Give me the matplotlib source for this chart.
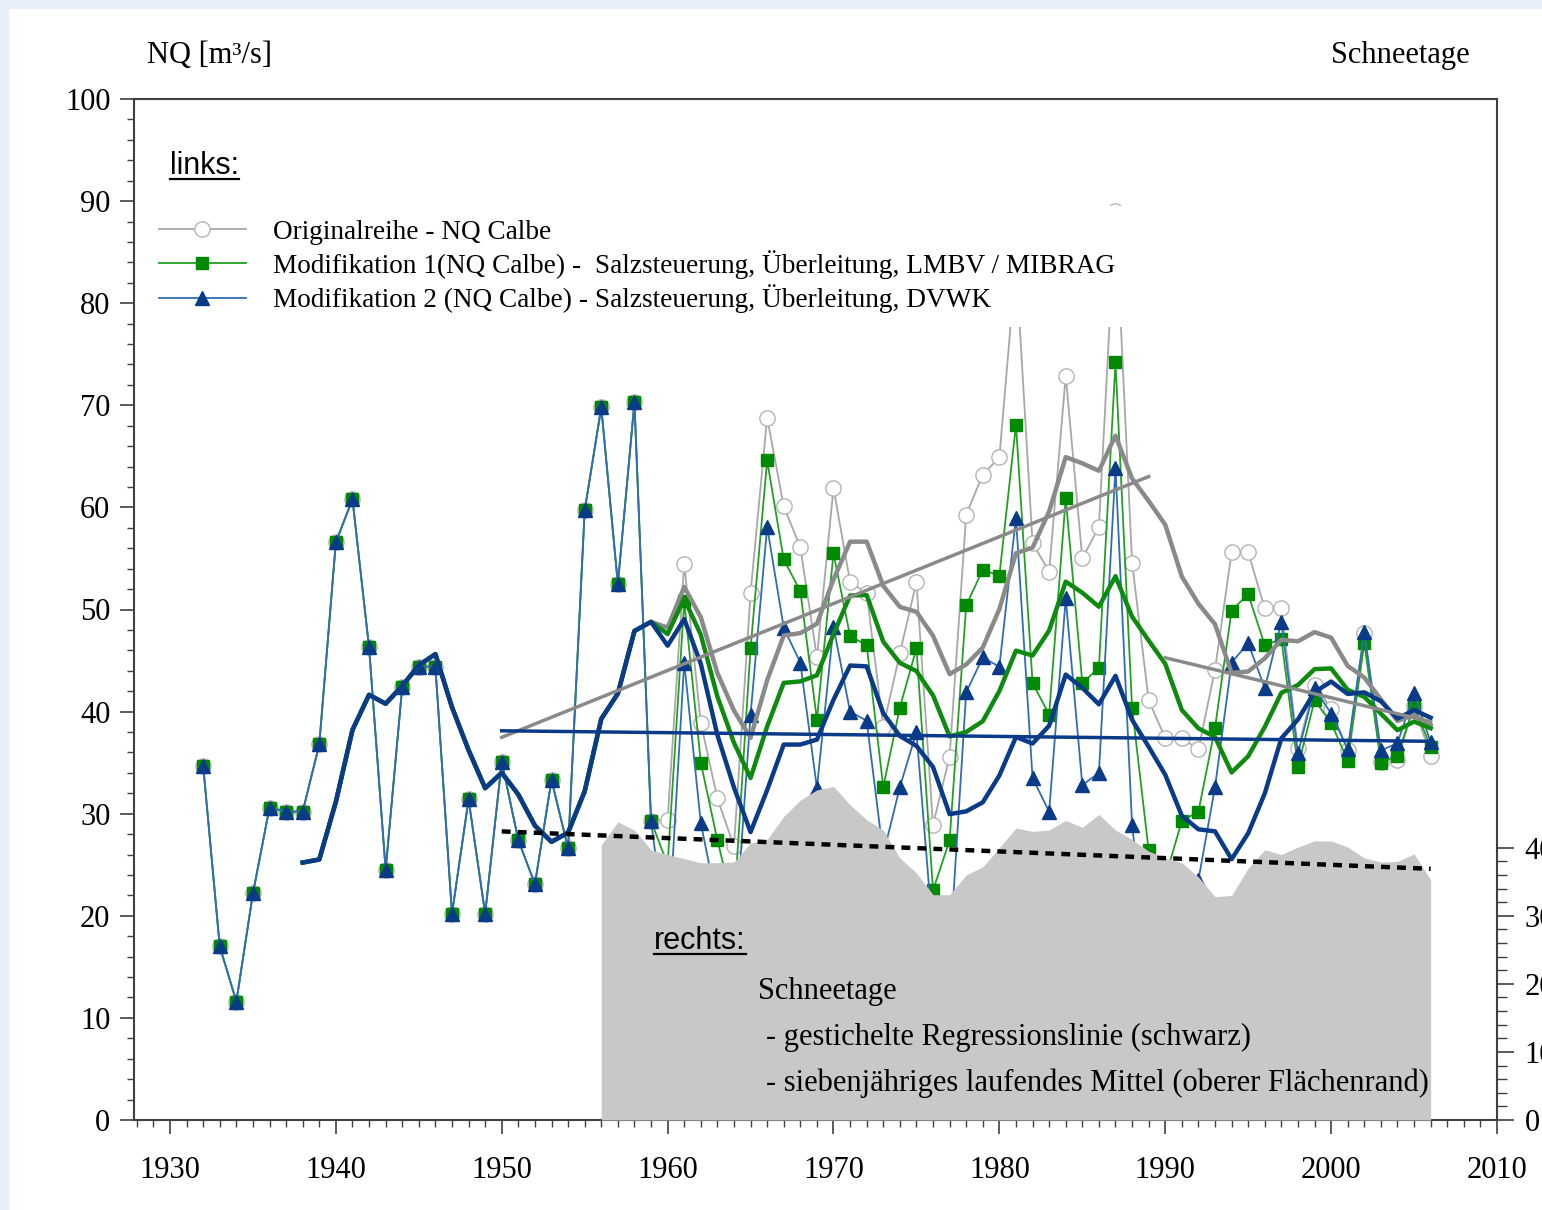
import numpy as np
import pandas as pd
import matplotlib
matplotlib.use("Agg")
import matplotlib.pyplot as plt
from matplotlib.lines import Line2D
from matplotlib.patches import Rectangle
from matplotlib.ticker import MultipleLocator, FixedLocator

plt.rcParams["font.family"] = ["Liberation Serif", "DejaVu Serif"]

# ---------- data ----------
years = np.arange(1932, 2007)

nq_orig = [34.7, 17.0, 11.6, 22.2, 30.6, 30.2, 30.2, 36.8, 56.6, 60.8,
           46.3, 24.5, 42.4, 44.4, 44.4, 20.2, 31.4, 20.2, 35.1, 27.4,
           23.1, 33.3, 26.6, 59.7, 69.8, 52.5, 70.3, 29.3, 29.4, 54.5,
           38.9, 31.5, 26.8, 51.6, 68.8, 60.1, 56.1, 45.3, 61.9, 52.7,
           51.6, 38.5, 45.7, 52.7, 28.9, 35.6, 59.3, 63.2, 64.9, 84.0,
           56.5, 53.7, 72.9, 55.0, 58.1, 89.0, 54.6, 41.1, 37.4, 37.4,
           36.3, 44.1, 55.6, 55.6, 50.1, 50.1, 36.4, 42.6, 40.3, 36.2,
           47.7, 35.1, 35.3, 40.5, 35.7]

nq_mod1 = [34.7, 17.0, 11.6, 22.2, 30.6, 30.2, 30.2, 36.8, 56.6, 60.8,
           46.3, 24.5, 42.4, 44.4, 44.4, 20.2, 31.4, 20.2, 35.1, 27.4,
           23.1, 33.3, 26.6, 59.7, 69.8, 52.5, 70.3, 29.3, 25.0, 50.8,
           35.0, 27.4, 20.8, 46.2, 64.6, 54.9, 51.8, 39.2, 55.5, 47.4,
           46.5, 32.6, 40.4, 46.2, 22.5, 27.4, 50.4, 53.9, 53.3, 68.1,
           42.8, 39.7, 60.9, 42.8, 44.3, 74.2, 40.4, 26.4, 23.7, 29.3,
           30.2, 38.4, 49.9, 51.5, 46.5, 47.1, 34.6, 41.1, 38.9, 35.2,
           46.7, 35.0, 35.7, 40.6, 36.5]

nq_mod2 = [34.7, 17.0, 11.6, 22.2, 30.6, 30.2, 30.2, 36.8, 56.6, 60.8,
           46.3, 24.5, 42.4, 44.4, 44.4, 20.2, 31.4, 20.2, 35.1, 27.4,
           23.1, 33.3, 26.6, 59.7, 69.8, 52.5, 70.3, 29.3, 17.0, 44.8,
           29.1, 21.0, 16.5, 39.7, 58.1, 48.2, 44.8, 32.5, 48.3, 40.0,
           39.1, 26.0, 32.6, 38.0, 18.0, 16.0, 41.9, 45.3, 44.4, 59.0,
           33.5, 30.2, 51.1, 32.8, 34.0, 63.9, 28.9, 15.0, 11.0, 23.0,
           23.5, 32.6, 44.8, 46.7, 42.3, 48.8, 35.9, 42.3, 39.8, 36.3,
           47.8, 36.2, 36.9, 41.8, 37.0]

# Schneetage, 7-year running mean (upper edge of grey area)
snow_years = np.arange(1956, 2007)
snow_ma7 = [40.4, 43.8, 42.6, 39.7, 39.0, 38.4, 37.8, 37.8, 37.9, 40.7,
            41.2, 44.6, 47.0, 48.5, 49.0, 46.3, 44.1, 42.6, 38.5, 36.3,
            33.1, 33.1, 36.0, 37.2, 40.0, 42.9, 42.4, 42.6, 44.0, 43.0,
            44.9, 42.6, 41.2, 39.5, 38.5, 37.8, 35.7, 32.8, 33.0, 37.0,
            39.7, 39.0, 40.1, 41.0, 41.0, 40.1, 38.5, 37.9, 38.0, 39.1,
            35.3]
# Schneetage regression line (ends)
snow_reg_years = [1950, 2006]
snow_reg_vals = [42.4, 36.9]

labels = ["Originalreihe - NQ Calbe",
          "Modifikation 1(NQ Calbe) -  Salzsteuerung, Überleitung, LMBV / MIBRAG\u00a0",
          "Modifikation 2 (NQ Calbe) - Salzsteuerung, Überleitung, DVWK"]

# ---------- derived: running means + regressions ----------
df = pd.DataFrame({"orig": nq_orig, "mod1": nq_mod1, "mod2": nq_mod2}, index=years)
ma = df.rolling(7).mean()


def reg_line(col, y0, y1):
    sub = df.loc[y0:y1, col]
    k = np.polyfit(sub.index.values, sub.values, 1)
    xx = np.array([y0, y1])
    return xx, np.polyval(k, xx)


reg_orig_a = reg_line("orig", 1950, 1989)
reg_orig_b = reg_line("orig", 1990, 2006)
reg_mod2 = reg_line("mod2", 1950, 2006)

# ---------- colours ----------
c_gray_thin = "#a8a8a8"
c_gray = "#8a8a8a"
c_green = "#0e8a0e"
c_green_thin = "#23a023"
c_blue = "#0a3b88"
c_blue_thin = "#2f6db5"

# ---------- figure ----------
W, H = 1542, 1210
fig = plt.figure(figsize=(W / 100, H / 100), dpi=100)
fig.patches.append(Rectangle((0, 1 - 8 / H), 1, 8 / H, transform=fig.transFigure,
                             color="#e8eefa", zorder=-5))
fig.patches.append(Rectangle((0, 0), 8 / W, 1, transform=fig.transFigure,
                             color="#e8eefa", zorder=-5))

ax = fig.add_axes([134 / W, 1 - 1120 / H, (1497 - 134) / W, (1120 - 99) / H])
ax.set_xlim(1927.83, 2010)
ax.set_ylim(0, 100)

# thin series with markers
ax.plot(years, nq_orig, color=c_gray_thin, lw=1.3, marker="o", ms=11,
        mfc="white", mec="#b4b4b4", mew=1.0, zorder=2)
ax.plot(years, nq_mod1, color=c_green_thin, lw=1.3, marker="s", ms=8,
        mfc="#008a00", mec="#008a00", zorder=2.1)
ax.plot(years, nq_mod2, color=c_blue_thin, lw=1.3, marker="^", ms=10,
        mfc=c_blue, mec=c_blue, zorder=2.2)

# running means
ax.plot(years, ma["orig"], color=c_gray, lw=3.2, zorder=3)
ax.plot(years, ma["mod1"], color=c_green, lw=3.2, zorder=3.1)
ax.plot(years, ma["mod2"], color=c_blue, lw=3.2, zorder=3.2)

# regressions
ax.plot(*reg_orig_a, color=c_gray, lw=2.5, zorder=3.3)
ax.plot(*reg_orig_b, color=c_gray, lw=2.5, zorder=3.3)
ax.plot(*reg_mod2, color=c_blue, lw=2.5, zorder=3.4)

# axes styling
for s in ax.spines.values():
    s.set_color("#404040")
    s.set_linewidth(1.5)
ax.xaxis.set_major_locator(MultipleLocator(10))
ax.xaxis.set_minor_locator(MultipleLocator(1))
ax.yaxis.set_major_locator(MultipleLocator(10))
ax.yaxis.set_minor_locator(MultipleLocator(2))
ax.tick_params(axis="both", which="major", direction="out", length=10,
               width=1.2, color="#404040", labelsize=22)
ax.tick_params(axis="both", which="minor", direction="out", length=5,
               width=1.0, color="#404040")
ax.tick_params(axis="y", which="major", pad=7)
ax.tick_params(axis="x", which="major", pad=16)

# legend with white background hiding lines below
handles = [
    Line2D([], [], color=c_gray_thin, lw=1.3, marker="o", ms=11, mfc="white", mec="#b4b4b4"),
    Line2D([], [], color=c_green_thin, lw=1.3, marker="s", ms=8, mfc="#008a00", mec="#008a00"),
    Line2D([], [], color=c_blue_thin, lw=1.3, marker="^", ms=10, mfc=c_blue, mec=c_blue),
]
leg = ax.legend(handles, labels, loc="upper left",
                bbox_to_anchor=(145 / W, 1 - 206 / H), bbox_transform=fig.transFigure,
                frameon=True, facecolor="white", edgecolor="none", framealpha=1,
                fancybox=False, fontsize=19.6, handlelength=3.2, handletextpad=1.0,
                labelspacing=0.2, borderpad=0.5, borderaxespad=0)
leg.set_zorder(10)

# right axis: snow days
ax2 = ax.twinx()
ax2.set_ylim(0, 150)
ax2.fill_between(snow_years, 0, snow_ma7, color="#c8c8c8", lw=0, zorder=1)
ax2.plot(snow_reg_years, snow_reg_vals, color="black", lw=3.2,
         ls=(0, (2, 1.6)), zorder=3)
ax2.yaxis.set_major_locator(FixedLocator([0, 10, 20, 30, 40]))
ax2.yaxis.set_minor_locator(FixedLocator(np.arange(0, 41, 2)))
ax2.tick_params(axis="y", which="major", direction="out", length=12, width=1.2,
                color="#404040", labelsize=22, pad=8)
ax2.tick_params(axis="y", which="minor", direction="out", length=7, width=1.0,
                color="#404040")
for s in ax2.spines.values():
    s.set_visible(False)

# texts
fig.text(147 / W, 1 - 55 / H, "NQ [m³/s]", fontsize=22, ha="left", va="center")
fig.text(1470 / W, 1 - 55 / H, "Schneetage", fontsize=22, ha="right", va="center")
t_links = fig.text(170 / W, 1 - 166 / H, "links:", fontsize=22, ha="left", va="center",
                   family=["Liberation Sans", "DejaVu Sans"], zorder=12)
t_rechts = fig.text(654 / W, 1 - 941 / H, "rechts:", fontsize=22, ha="left", va="center",
                    family=["Liberation Sans", "DejaVu Sans"], zorder=12)
fig.text(758 / W, 1 - 991 / H, "Schneetage", fontsize=22, ha="left", va="center", zorder=12)
fig.text(766 / W, 1 - 1037 / H, "- gestichelte Regressionslinie (schwarz)", fontsize=22,
         ha="left", va="center", zorder=12)
fig.text(766 / W, 1 - 1083 / H, "- siebenjähriges laufendes Mittel (oberer Flächenrand)",
         fontsize=22, ha="left", va="center", zorder=12)

# underline "links:" / "rechts:"
fig.canvas.draw()
inv = fig.transFigure.inverted()
for t in (t_links, t_rechts):
    bb = t.get_window_extent()
    (x0, y0), (x1, _) = inv.transform([(bb.x0, bb.y0 + 2), (bb.x1, bb.y0 + 2)])
    fig.add_artist(Line2D([x0, x1], [y0, y0], transform=fig.transFigure,
                          color="black", lw=1.6, zorder=12))

fig.savefig("out.png", dpi=100, facecolor="white")
